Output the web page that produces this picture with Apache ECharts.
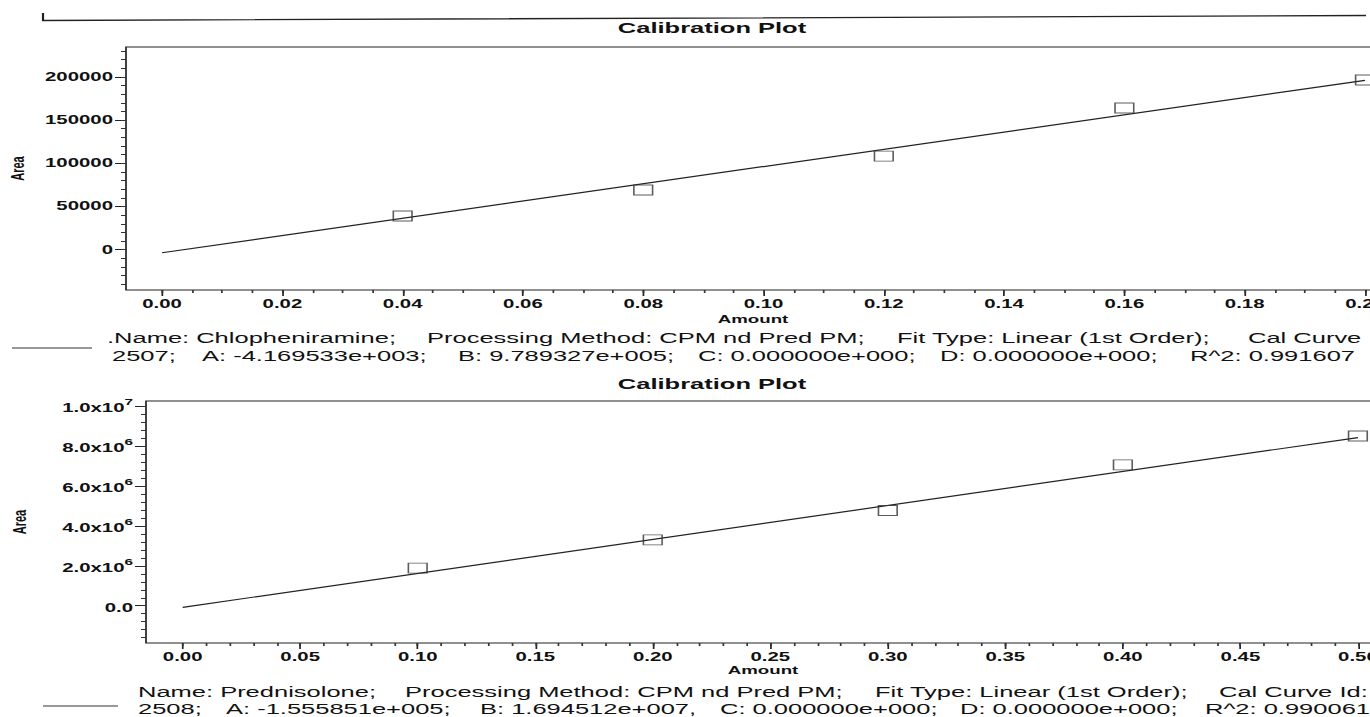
<!DOCTYPE html>
<html>
<head>
<meta charset="utf-8">
<script src="https://cdn.jsdelivr.net/npm/echarts@6/dist/echarts.min.js"></script>
<style>
html, body { margin:0; padding:0; background:#fff; overflow:hidden; }
#CalibracionPlot { height:717px; transform-origin:0 0; }
</style>
</head>
<body>
<div id="CalibracionPlot"></div>
<script>
// datos
var amountChlo = [0.04, 0.08, 0.12, 0.16, 0.20];
var areaChlo = [39000, 69100, 108400, 164000, 196400];
var fitChloX = [0, 0.20];
var fitChloY = [-3500, 196000];

var amountPred = [0.10, 0.20, 0.30, 0.40, 0.50];
var areaPred = [1885000, 3300000, 4770000, 7050000, 8500000];
var fitPredX = [0, 0.50];
var fitPredY = [-80000, 8420000];

var ticksChloX = [0, 0.02, 0.04, 0.06, 0.08, 0.10, 0.12, 0.14, 0.16, 0.18, 0.20];
var ticksChloY = [0, 50000, 100000, 150000, 200000];
var ticksPredX = [0, 0.05, 0.10, 0.15, 0.20, 0.25, 0.30, 0.35, 0.40, 0.45, 0.50];
var ticksPredY = [0, 2000000, 4000000, 6000000, 8000000, 10000000];

var textoChlo1 = [['.Name: Chlopheniramine;', 107], ['Processing Method: CPM nd Pred PM;', 427], ['Fit Type: Linear (1st Order);', 897], ['Cal Curve', 1248]];
var textoChlo2 = [['2507;', 112], ['A: -4.169533e+003;', 202], ['B: 9.789327e+005;', 458], ['C: 0.000000e+000;', 698], ['D: 0.000000e+000;', 940], ['R^2: 0.991607', 1190]];
var textoPred1 = [['Name: Prednisolone;', 138], ['Processing Method: CPM nd Pred PM;', 405], ['Fit Type: Linear (1st Order);', 875], ['Cal Curve Id:', 1219]];
var textoPred2 = [['2508;', 138], ['A: -1.555851e+005;', 226], ['B: 1.694512e+007,', 480], ['C: 0.000000e+000;', 720], ['D: 0.000000e+000;', 960], ['R^2: 0.990061', 1205]];

// el escaneo esta estirado en horizontal
var S = 1.7;
function sx(v) { return v / S; }

var FUENTE = '"Liberation Sans", Arial, sans-serif';

function pasos(desde, hasta, paso) {
	var r = [];
	for (var v = desde; v <= hasta + paso / 2; v += paso) r.push(+v.toFixed(6));
	return r;
}
function pares(xs, ys) {
	return xs.map(function (x, i) { return [x, ys[i]]; });
}

var dom = document.getElementById("CalibracionPlot");
dom.style.width = (1370 / S) + 'px';
dom.style.transform = 'scaleX(' + S + ')';
var myChart = echarts.init(dom, null, { renderer: 'svg' });

var etiqueta = { color: '#111', fontFamily: FUENTE, fontSize: 12, fontWeight: 'bold' };
var nombreEje = { color: '#111', fontFamily: FUENTE, fontSize: 11, fontWeight: 'bold' };

function ejeX(grid, min, max, ticks, menores) {
	return [
		{
			type: 'value', gridIndex: grid, position: 'bottom', min: min, max: max,
			name: 'Amount', nameLocation: 'middle', nameGap: grid === 0 ? 24 : 22, nameTextStyle: nombreEje,
			axisLine: { show: false, onZero: false }, splitLine: { show: false },
			axisTick: { show: true, length: 6, customValues: ticks, lineStyle: { color: '#222' } },
			axisLabel: Object.assign({ customValues: ticks, margin: 8, formatter: function (v) { return v.toFixed(2); } }, etiqueta)
		},
		{
			type: 'value', gridIndex: grid, position: 'bottom', min: min, max: max,
			axisLine: { show: false, onZero: false }, splitLine: { show: false }, axisLabel: { show: false },
			axisTick: { show: true, length: 3, customValues: menores, lineStyle: { color: '#333' } }
		}
	];
}

function ejeY(grid, min, max, ticks, menores, gap, formato, rich) {
	var lab = Object.assign({ customValues: ticks, margin: sx(13), formatter: formato }, etiqueta);
	if (rich) lab.rich = rich;
	return [
		{
			type: 'value', gridIndex: grid, position: 'left', min: min, max: max,
			name: 'Area', nameLocation: 'middle', nameGap: gap, nameTextStyle: nombreEje,
			axisLine: { show: false, onZero: false }, splitLine: { show: false },
			axisTick: { show: true, length: sx(11), customValues: ticks, lineStyle: { color: '#222' } },
			axisLabel: lab
		},
		{
			type: 'value', gridIndex: grid, position: 'left', min: min, max: max,
			axisLine: { show: false, onZero: false }, splitLine: { show: false }, axisLabel: { show: false },
			axisTick: { show: true, length: sx(5), customValues: menores, lineStyle: { color: '#333' } }
		}
	];
}

function textos(lista, y) {
	return lista.map(function (t) {
		return {
			type: 'text', x: sx(t[1]), y: y,
			style: { text: t[0], font: '15px ' + FUENTE, fill: '#111', align: 'left', verticalAlign: 'middle' }
		};
	});
}

var formatoPred = function (v) {
	if (v === 0) return '{m|0.0}';
	var e = Math.floor(Math.log10(v) + 1e-9);
	return '{m|' + (v / Math.pow(10, e)).toFixed(1) + 'x10}{s|' + e + '}';
};
var richPred = {
	m: { fontFamily: FUENTE, fontSize: 12, fontWeight: 'bold', color: '#111', lineHeight: 16, verticalAlign: 'bottom' },
	s: { fontFamily: FUENTE, fontSize: 9, fontWeight: 'bold', color: '#111', lineHeight: 9, verticalAlign: 'top' }
};

var option = {
	backgroundColor: '#fff',
	animation: false,
	grid: [
		{ left: sx(126), top: 47, width: sx(1380 - 126), height: 243, outerBoundsMode: 'none', containLabel: false, show: true, backgroundColor: '#fff', borderColor: '#222', borderWidth: 1 },
		{ left: sx(146), top: 401, width: sx(1380 - 146), height: 242, outerBoundsMode: 'none', containLabel: false, show: true, backgroundColor: '#fff', borderColor: '#222', borderWidth: 1 }
	],
	xAxis: ejeX(0, -0.006, 0.2025, ticksChloX, pasos(0, 0.20, 0.005))
		.concat(ejeX(1, -0.0156, 0.5094, ticksPredX, pasos(0, 0.50, 0.01))),
	yAxis: ejeY(0, -46600, 234600, ticksChloY, pasos(-40000, 230000, 10000), sx(98), function (v) { return String(v); })
		.concat(ejeY(1, -1865000, 10250000, ticksPredY, pasos(-1600000, 10000000, 400000), sx(117), formatoPred, richPred)),
	series: [
		{
			name: 'Chlopheniramine', type: 'scatter', xAxisIndex: 0, yAxisIndex: 0,
			data: pares(amountChlo, areaChlo), symbol: 'rect', symbolSize: [11, 10],
			itemStyle: { color: 'rgba(0,0,0,0)', borderColor: '#333', borderWidth: 0.9 }, z: 3
		},
		{
			name: 'Fit Chlopheniramine', type: 'line', xAxisIndex: 0, yAxisIndex: 0,
			data: pares(fitChloX, fitChloY), symbol: 'none', lineStyle: { color: '#222', width: 1.2 }
		},
		{
			name: 'Prednisolone', type: 'scatter', xAxisIndex: 2, yAxisIndex: 2,
			data: pares(amountPred, areaPred), symbol: 'rect', symbolSize: [11, 10],
			itemStyle: { color: 'rgba(0,0,0,0)', borderColor: '#333', borderWidth: 0.9 }, z: 3
		},
		{
			name: 'Fit Prednisolone', type: 'line', xAxisIndex: 2, yAxisIndex: 2,
			data: pares(fitPredX, fitPredY), symbol: 'none', lineStyle: { color: '#222', width: 1.2 }
		}
	],
	graphic: [
		{ type: 'polyline', shape: { points: [[sx(43), 13], [sx(43), 20.5], [sx(1366), 15.5]] }, style: { stroke: '#222', lineWidth: 1.3, fill: null } },
		{ type: 'text', x: sx(712), y: 28, style: { text: 'Calibration Plot', font: 'bold 15px ' + FUENTE, fill: '#111', align: 'center', verticalAlign: 'middle' } },
		{ type: 'text', x: sx(712), y: 384, style: { text: 'Calibration Plot', font: 'bold 15px ' + FUENTE, fill: '#111', align: 'center', verticalAlign: 'middle' } },
		{ type: 'line', shape: { x1: sx(12), y1: 348, x2: sx(92), y2: 348 }, style: { stroke: '#333', lineWidth: 1 } },
		{ type: 'line', shape: { x1: sx(43), y1: 706, x2: sx(118), y2: 706 }, style: { stroke: '#333', lineWidth: 1 } }
	].concat(textos(textoChlo1, 338), textos(textoChlo2, 356), textos(textoPred1, 692), textos(textoPred2, 709))
};

if (option && typeof option === "object") {
	myChart.setOption(option, true);
}
</script>
</body>
</html>
